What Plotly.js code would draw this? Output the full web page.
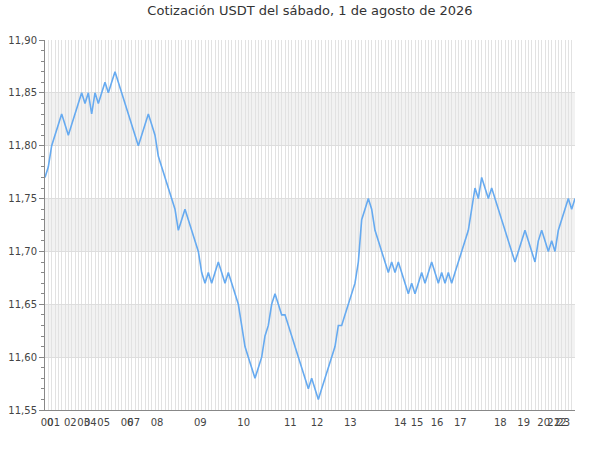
<!DOCTYPE html>
<html>
<head>
<meta charset="utf-8">
<script src="https://cdn.plot.ly/plotly-3.0.1.min.js"></script>
<style>html,body{margin:0;padding:0;background:#fff;}#chart{width:600px;height:450px;}</style>
</head>
<body>
<div id="chart"></div>
<script>
// Exchange rate readings (one per recorded quote during the day)
var rates = [
  11.77, 11.78, 11.80, 11.81, 11.82, 11.83, 11.82, 11.81, 11.82, 11.83,
  11.84, 11.85, 11.84, 11.85, 11.83, 11.85, 11.84, 11.85, 11.86, 11.85,
  11.86, 11.87, 11.86, 11.85, 11.84, 11.83, 11.82, 11.81, 11.80, 11.81,
  11.82, 11.83, 11.82, 11.81, 11.79, 11.78, 11.77, 11.76, 11.75, 11.74,
  11.72, 11.73, 11.74, 11.73, 11.72, 11.71, 11.70, 11.68, 11.67, 11.68,
  11.67, 11.68, 11.69, 11.68, 11.67, 11.68, 11.67, 11.66, 11.65, 11.63,
  11.61, 11.60, 11.59, 11.58, 11.59, 11.60, 11.62, 11.63, 11.65, 11.66,
  11.65, 11.64, 11.64, 11.63, 11.62, 11.61, 11.60, 11.59, 11.58, 11.57,
  11.58, 11.57, 11.56, 11.57, 11.58, 11.59, 11.60, 11.61, 11.63, 11.63,
  11.64, 11.65, 11.66, 11.67, 11.69, 11.73, 11.74, 11.75, 11.74, 11.72,
  11.71, 11.70, 11.69, 11.68, 11.69, 11.68, 11.69, 11.68, 11.67, 11.66,
  11.67, 11.66, 11.67, 11.68, 11.67, 11.68, 11.69, 11.68, 11.67, 11.68,
  11.67, 11.68, 11.67, 11.68, 11.69, 11.70, 11.71, 11.72, 11.74, 11.76,
  11.75, 11.77, 11.76, 11.75, 11.76, 11.75, 11.74, 11.73, 11.72, 11.71,
  11.70, 11.69, 11.70, 11.71, 11.72, 11.71, 11.70, 11.69, 11.71, 11.72,
  11.71, 11.70, 11.71, 11.70, 11.72, 11.73, 11.74, 11.75, 11.74, 11.75
];

// Hour labels and the reading index where each hour starts
var hourLabels = ["00","01","02","03","04","05","06","07","08","09","10","11",
                  "12","13","14","15","16","17","18","19","20","21","22","23"];
var hourStartIdx = [0, 2, 7, 11, 13, 17, 24, 26, 33, 46, 59, 73,
                    81, 91, 106, 111, 117, 124, 136, 143, 149, 152, 154, 155];

// Y axis tick values
var yTicks = [11.55, 11.60, 11.65, 11.70, 11.75, 11.80, 11.85, 11.90];

var chartTitle = "Cotización USDT del sábado, 1 de agosto de 2026";

var xIdx = rates.map(function (_, i) { return i; });

var bands = [];
for (var k = 0; k < yTicks.length - 1; k++) {
  if (k % 2 === 1) {
    bands.push({
      type: 'rect', xref: 'paper', yref: 'y', layer: 'below',
      x0: 0, x1: 1, y0: yTicks[k], y1: yTicks[k + 1],
      fillcolor: '#f2f2f2', line: {width: 0}
    });
  }
}

var trace = {
  x: xIdx, y: rates, type: 'scatter', mode: 'lines',
  line: {color: '#66aaf0', width: 1.6},
  hoverinfo: 'skip'
};

var font = {family: 'DejaVu Sans, sans-serif', size: 10, color: '#444'};

var layout = {
  width: 600, height: 450,
  margin: {l: 45, r: 25, t: 40, b: 40, pad: 0},
  paper_bgcolor: '#fff', plot_bgcolor: '#fff',
  separators: ',.',
  showlegend: false,
  font: font,
  title: {
    text: chartTitle,
    font: {family: 'DejaVu Sans, sans-serif', size: 13, color: '#333'},
    x: 0.5, xanchor: 'center', xref: 'paper',
    y: 1 - 10.5 / 450, yref: 'container', yanchor: 'middle'
  },
  xaxis: {
    type: 'linear',
    range: [0, rates.length - 1],
    tickmode: 'array', tickvals: hourStartIdx, ticktext: hourLabels,
    tickangle: 0, ticks: '', ticklabelshift: 2, ticklabelstandoff: 3,
    showgrid: true, gridcolor: '#e2e2e2', gridwidth: 1,
    minor: {tickmode: 'linear', tick0: 0, dtick: 1, showgrid: true, gridcolor: '#e2e2e2', gridwidth: 1, ticks: ''},
    showline: true, linecolor: '#888', linewidth: 1,
    zeroline: false, fixedrange: true,
    tickfont: font
  },
  yaxis: {
    range: [yTicks[0], yTicks[yTicks.length - 1]],
    tickmode: 'array', tickvals: yTicks, tickformat: '.2f',
    ticks: 'outside', ticklen: 5, tickcolor: '#888', tickwidth: 1,
    minor: {tickmode: 'linear', tick0: yTicks[0], dtick: 0.01, ticks: 'outside', ticklen: 3, tickcolor: '#888', showgrid: false},
    showgrid: true, gridcolor: '#dddddd', gridwidth: 1,
    showline: true, linecolor: '#888', linewidth: 1,
    zeroline: false, fixedrange: true,
    tickfont: font
  },
  shapes: bands
};

Plotly.newPlot('chart', [trace], layout, {staticPlot: true, displayModeBar: false});
</script>
</body>
</html>
